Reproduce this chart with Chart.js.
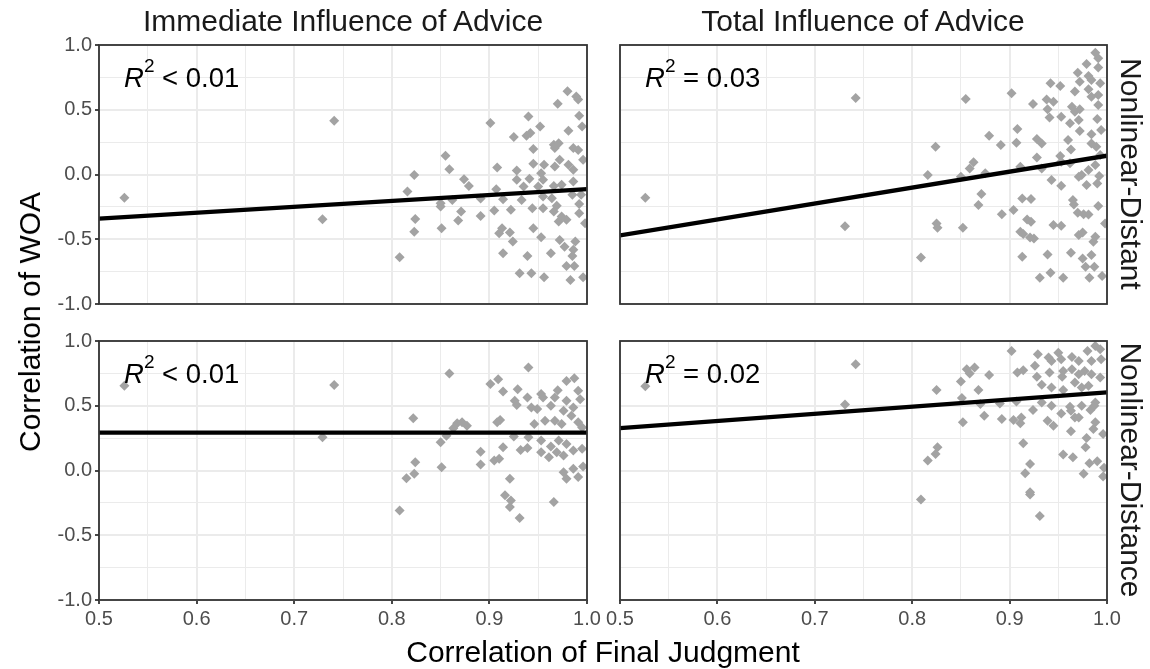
<!DOCTYPE html>
<html>
<head>
<meta charset="utf-8">
<script src="https://cdn.jsdelivr.net/npm/chart.js@4"></script>
<style>
  body { margin: 0; background: #fff; width: 1150px; height: 669px; overflow: hidden; position: relative;
         font-family: "Liberation Sans", Arial, sans-serif; }
  canvas { position: absolute; left: 0; top: 0; }
  .txt { position: absolute; white-space: nowrap; transform: translate(-50%, -50%); line-height: 1; }
  .strip { font-size: 30px; color: #1a1a1a; }
  .title { font-size: 30px; color: #000; }
  .r2 { position: absolute; white-space: nowrap; font-size: 27.5px; line-height: 1; color: #000; }
  .r2 sup { font-size: 19px; position: relative; top: -15px; vertical-align: baseline; }
</style>
</head>
<body>
<canvas id="tl" width="1150" height="669"></canvas>
<canvas id="tr" width="1150" height="669"></canvas>
<canvas id="bl" width="1150" height="669"></canvas>
<canvas id="br" width="1150" height="669"></canvas>

<div class="txt strip" style="left:343px; top:21px;">Immediate Influence of Advice</div>
<div class="txt strip" style="left:863px; top:21px;">Total Influence of Advice</div>
<div class="txt strip" style="left:1131px; top:174px; transform: translate(-50%, -50%) rotate(90deg);">Nonlinear-Distant</div>
<div class="txt strip" style="left:1131px; top:470px; transform: translate(-50%, -50%) rotate(90deg);">Nonlinear-Distance</div>
<div class="txt title" style="left:30px; top:322px; transform: translate(-50%, -50%) rotate(-90deg);">Correlation of WOA</div>
<div class="txt title" style="left:603px; top:652px;">Correlation of Final Judgment</div>

<div class="r2" style="left:124px; top:64px;"><i>R</i><sup>2</sup> &lt; 0.01</div>
<div class="r2" style="left:645px; top:64px;"><i>R</i><sup>2</sup> = 0.03</div>
<div class="r2" style="left:124px; top:360px;"><i>R</i><sup>2</sup> &lt; 0.01</div>
<div class="r2" style="left:645px; top:360px;"><i>R</i><sup>2</sup> = 0.02</div>

<script>
// ticks
const xMajorTicks = [0.5, 0.6, 0.7, 0.8, 0.9, 1.0];
const xMinorTicks = [0.55, 0.65, 0.75, 0.85, 0.95];
const yMajorTicks = [-1.0, -0.5, 0.0, 0.5, 1.0];
const yMinorTicks = [-0.75, -0.25, 0.25, 0.75];

// regression lines (ends at x = 0.5 and x = 1.0)
const fitX = [0.5, 1.0];
const fitImmDistant = [-0.34, -0.113];
const fitTotDistant = [-0.47, 0.145];
const fitImmDistance = [0.292, 0.292];
const fitTotDistance = [0.327, 0.603];

// points [correlation of final judgment, correlation of WOA]
const ptsImmDistant = [
  [0.526,-0.18],[0.741,0.415],[0.729,-0.345],
  [0.980,0.642],[0.989,0.603],[0.991,0.58],[0.970,0.546],[0.940,0.448],[0.901,0.397],[0.952,0.371],[0.992,0.454],[0.995,0.371],[0.981,0.338],
  [0.925,0.289],[0.938,0.30],[0.942,0.32],[0.966,0.229],[0.971,0.242],[0.967,0.204],[0.945,0.196],[0.986,0.204],[0.991,0.19],
  [0.855,0.144],[0.859,0.041],[0.823,-0.003],[0.908,0.054],[0.928,0.031],[0.945,0.083],[0.956,0.075],[0.967,0.062],[0.972,0.113],[0.981,0.075],[0.986,0.036],[0.996,0.113],[0.953,0.010],
  [0.874,-0.036],[0.879,-0.088],[0.816,-0.131],[0.907,-0.113],[0.928,-0.041],[0.941,-0.033],[0.935,-0.093],[0.950,-0.093],[0.955,-0.041],[0.966,-0.088],[0.974,-0.08],[0.986,-0.054],
  [0.850,-0.222],[0.850,-0.247],[0.862,-0.196],[0.891,-0.186],[0.914,-0.191],[0.933,-0.196],[0.955,-0.17],[0.964,-0.183],[0.985,-0.157],[0.994,-0.157],
  [0.824,-0.343],[0.823,-0.443],[0.851,-0.415],[0.871,-0.286],[0.868,-0.356],[0.891,-0.32],[0.905,-0.278],[0.922,-0.273],[0.944,-0.26],[0.955,-0.26],[0.966,-0.286],[0.969,-0.242],[0.992,-0.227],[0.992,-0.299],[0.974,-0.325],[0.979,-0.35],[0.971,-0.363],[0.998,-0.376],
  [0.913,-0.415],[0.910,-0.453],[0.921,-0.448],[0.924,-0.518],[0.945,-0.415],[0.953,-0.485],[0.972,-0.505],[0.977,-0.557],[0.988,-0.518],[0.986,-0.582],
  [0.808,-0.639],[0.914,-0.608],[0.939,-0.629],[0.963,-0.608],[0.985,-0.629],[0.979,-0.706],[0.987,-0.706],[0.931,-0.763],[0.943,-0.763],[0.956,-0.794],[0.983,-0.814],[0.996,-0.794]
];
const ptsTotDistant = [
  [0.526,-0.18],[0.742,0.59],[0.731,-0.40],
  [0.988,0.941],[0.991,0.897],[0.979,0.853],[0.991,0.827],[0.970,0.786],[0.981,0.761],[0.972,0.717],[0.984,0.730],[0.993,0.704],[0.942,0.704],[0.952,0.683],[0.981,0.658],[0.967,0.64],
  [0.902,0.627],[0.855,0.583],[0.924,0.544],[0.938,0.58],[0.945,0.562],[0.984,0.601],[0.991,0.614],[0.991,0.537],[0.939,0.503],[0.941,0.441],[0.953,0.446],[0.964,0.524],[0.967,0.485],[0.972,0.503],
  [0.962,0.395],[0.971,0.42],[0.990,0.428],[0.994,0.343],[0.908,0.351],[0.879,0.3],[0.972,0.336],[0.984,0.31],[0.824,0.215],[0.891,0.228],[0.907,0.245],[0.928,0.274],[0.933,0.24],[0.960,0.266],
  [0.963,0.194],[0.984,0.24],[0.989,0.215],[0.928,0.132],[0.952,0.142],[0.953,0.099],[0.962,0.086],[0.981,0.034],[0.988,0.073],[0.993,0.15],[0.863,0.094],[0.859,0.047],[0.816,-0.004],[0.850,-0.017],
  [0.875,0.009],[0.911,0.06],[0.933,0.047],[0.943,-0.043],[0.953,-0.087],[0.971,-0.017],[0.974,-0.004],[0.979,-0.081],[0.992,-0.012],[0.990,-0.069],[0.871,-0.151],[0.868,-0.236],[0.913,-0.185],
  [0.922,-0.19],[0.965,-0.197],[0.966,-0.231],[0.991,-0.244],[0.892,-0.306],[0.904,-0.275],[0.918,-0.347],[0.922,-0.365],[0.970,-0.295],[0.976,-0.306],[0.981,-0.308],[0.945,-0.39],[0.953,-0.396],
  [0.825,-0.378],[0.826,-0.411],[0.852,-0.411],[0.998,-0.378],[0.911,-0.442],[0.914,-0.46],[0.921,-0.486],[0.925,-0.494],[0.971,-0.468],[0.975,-0.447],[0.988,-0.481],[0.986,-0.519],
  [0.809,-0.64],[0.913,-0.635],[0.939,-0.617],[0.963,-0.604],[0.984,-0.622],[0.975,-0.648],[0.978,-0.712],[0.987,-0.712],[0.931,-0.797],[0.942,-0.759],[0.955,-0.797],[0.982,-0.797],[0.995,-0.784]
];
const ptsImmDistance = [
  [0.526,0.654],[0.741,0.66],[0.729,0.256],
  [0.940,0.795],[0.859,0.749],[0.901,0.667],[0.909,0.705],[0.914,0.61],[0.929,0.628],[0.926,0.538],[0.928,0.505],[0.939,0.564],[0.953,0.59],[0.955,0.564],[0.970,0.62],[0.979,0.692],[0.987,0.713],
  [0.991,0.615],[0.993,0.551],[0.943,0.487],[0.949,0.474],[0.963,0.5],[0.967,0.564],[0.976,0.462],[0.979,0.538],[0.986,0.487],[0.984,0.423],[0.822,0.403],[0.908,0.372],[0.911,0.39],[0.867,0.364],
  [0.872,0.372],[0.877,0.346],[0.863,0.326],[0.946,0.359],[0.957,0.385],[0.967,0.385],[0.974,0.359],[0.991,0.372],[0.995,0.333],[0.856,0.269],[0.850,0.218],[0.925,0.262],[0.940,0.256],[0.953,0.231],
  [0.971,0.231],[0.979,0.205],[0.963,0.185],[0.914,0.18],[0.932,0.159],[0.939,0.174],[0.953,0.141],[0.961,0.103],[0.969,0.141],[0.976,0.115],[0.986,0.154],[0.995,0.167],[0.891,0.144],[0.891,0.046],
  [0.905,0.077],[0.910,0.09],[0.851,0.026],[0.824,0.064],[0.823,-0.026],[0.815,-0.059],[0.921,-0.064],[0.976,-0.013],[0.986,0.013],[0.979,-0.064],[0.991,-0.051],[0.996,0.031],[0.916,-0.192],
  [0.922,-0.231],[0.921,-0.282],[0.966,-0.244],[0.931,-0.367],[0.808,-0.308]
];
const ptsTotDistance = [
  [0.526,0.65],[0.742,0.82],[0.731,0.51],
  [0.902,0.923],[0.929,0.897],[0.940,0.872],[0.943,0.846],[0.950,0.91],[0.953,0.859],[0.964,0.877],[0.971,0.846],[0.980,0.923],[0.988,0.962],[0.993,0.936],[0.984,0.846],[0.994,0.859],
  [0.926,0.808],[0.941,0.756],[0.955,0.769],[0.964,0.782],[0.971,0.744],[0.977,0.769],[0.984,0.744],[0.993,0.718],[0.954,0.723],[0.967,0.679],[0.981,0.654],[0.856,0.782],[0.864,0.795],
  [0.859,0.749],[0.879,0.738],[0.908,0.756],[0.914,0.774],[0.928,0.723],[0.933,0.662],[0.943,0.641],[0.955,0.621],[0.974,0.641],[0.850,0.687],[0.825,0.621],[0.868,0.621],[0.851,0.559],
  [0.870,0.513],[0.890,0.518],[0.907,0.533],[0.933,0.526],[0.943,0.5],[0.962,0.492],[0.974,0.5],[0.988,0.526],[0.924,0.467],[0.953,0.441],[0.963,0.462],[0.967,0.41],[0.983,0.467],[0.987,0.5],
  [0.852,0.372],[0.874,0.423],[0.892,0.397],[0.904,0.39],[0.912,0.41],[0.911,0.364],[0.939,0.385],[0.945,0.346],[0.971,0.41],[0.988,0.372],[0.986,0.321],[0.963,0.303],[0.996,0.282],[0.979,0.251],
  [0.914,0.21],[0.978,0.18],[0.826,0.18],[0.824,0.128],[0.816,0.077],[0.955,0.123],[0.965,0.103],[0.921,0.051],[0.916,-0.021],[0.982,0.056],[0.990,0.072],[0.976,-0.026],[0.997,0.021],
  [0.996,-0.046],[0.921,-0.167],[0.921,-0.185],[0.809,-0.223],[0.931,-0.351]
];

const FONT = '"Liberation Sans", Arial, sans-serif';
const W = 1150, H = 669;

function isIn(list, v) {
  return list.some(function(t) { return Math.abs(t - v) < 1e-6; });
}

// panel outline on top of everything
const borderPlugin = {
  id: 'panelBorder',
  afterDraw: function(chart) {
    const a = chart.chartArea;
    const ctx = chart.ctx;
    ctx.save();
    ctx.strokeStyle = '#333333';
    ctx.lineWidth = 1.8;
    ctx.strokeRect(a.left, a.top, a.right - a.left, a.bottom - a.top);
    ctx.restore();
  }
};

function makePanel(id, pts, fitY, area, showX, showY) {
  const yAxisW = showY ? 50 : 0;
  const xAxisH = showX ? 35 : 0;

  const gridOpts = function(majors) {
    return {
      color: '#ebebeb',
      lineWidth: function(c) { return c.tick && isIn(majors, c.tick.value) ? 2 : 1; },
      tickColor: function(c) { return c.tick && isIn(majors, c.tick.value) ? '#333333' : 'rgba(0,0,0,0)'; },
      tickWidth: 1.8,
      tickLength: 4
    };
  };

  const xGrid = gridOpts(xMajorTicks);
  xGrid.drawTicks = showX;
  const yGrid = gridOpts(yMajorTicks);
  yGrid.drawTicks = showY;

  new Chart(document.getElementById(id), {
    type: 'scatter',
    data: {
      datasets: [
        {
          data: fitX.map(function(x, i) { return { x: x, y: fitY[i] }; }),
          showLine: true,
          borderColor: '#000000',
          borderWidth: 4.3,
          pointRadius: 0,
          order: 0
        },
        {
          data: pts.map(function(p) { return { x: p[0], y: p[1] }; }),
          pointStyle: 'rectRot',
          pointRadius: 5,
          backgroundColor: '#a3a3a3',
          borderWidth: 0,
          order: 1
        }
      ]
    },
    options: {
      responsive: false,
      animation: false,
      devicePixelRatio: 1,
      layout: {
        padding: {
          left: area.left - yAxisW,
          top: area.top,
          right: W - area.right,
          bottom: H - area.bottom - xAxisH
        }
      },
      plugins: { legend: { display: false }, tooltip: { enabled: false } },
      scales: {
        x: {
          type: 'linear', min: 0.5, max: 1.0,
          afterBuildTicks: function(s) {
            s.ticks = xMajorTicks.concat(xMinorTicks).sort().map(function(v) { return { value: v }; });
          },
          afterFit: function(s) { s.height = xAxisH; },
          grid: xGrid,
          border: { display: false },
          ticks: {
            display: showX, autoSkip: false, maxRotation: 0, padding: 3,
            color: '#4d4d4d', font: { family: FONT, size: 20 },
            callback: function(v) { return isIn(xMajorTicks, v) ? v.toFixed(1) : ''; }
          }
        },
        y: {
          type: 'linear', min: -1.0, max: 1.0,
          afterBuildTicks: function(s) {
            s.ticks = yMajorTicks.concat(yMinorTicks).sort(function(a, b) { return a - b; })
              .map(function(v) { return { value: v }; });
          },
          afterFit: function(s) { s.width = yAxisW; },
          grid: yGrid,
          border: { display: false },
          ticks: {
            display: showY, autoSkip: false, padding: 3,
            color: '#4d4d4d', font: { family: FONT, size: 20 },
            callback: function(v) { return isIn(yMajorTicks, v) ? v.toFixed(1) : ''; }
          }
        }
      }
    },
    plugins: [borderPlugin]
  });
}

makePanel('tl', ptsImmDistant, fitImmDistant, { left: 99, top: 45, right: 587, bottom: 304 }, false, true);
makePanel('tr', ptsTotDistant, fitTotDistant, { left: 620, top: 45, right: 1107, bottom: 304 }, false, false);
makePanel('bl', ptsImmDistance, fitImmDistance, { left: 99, top: 341, right: 587, bottom: 600 }, true, true);
makePanel('br', ptsTotDistance, fitTotDistance, { left: 620, top: 341, right: 1107, bottom: 600 }, true, false);
</script>
</body>
</html>
